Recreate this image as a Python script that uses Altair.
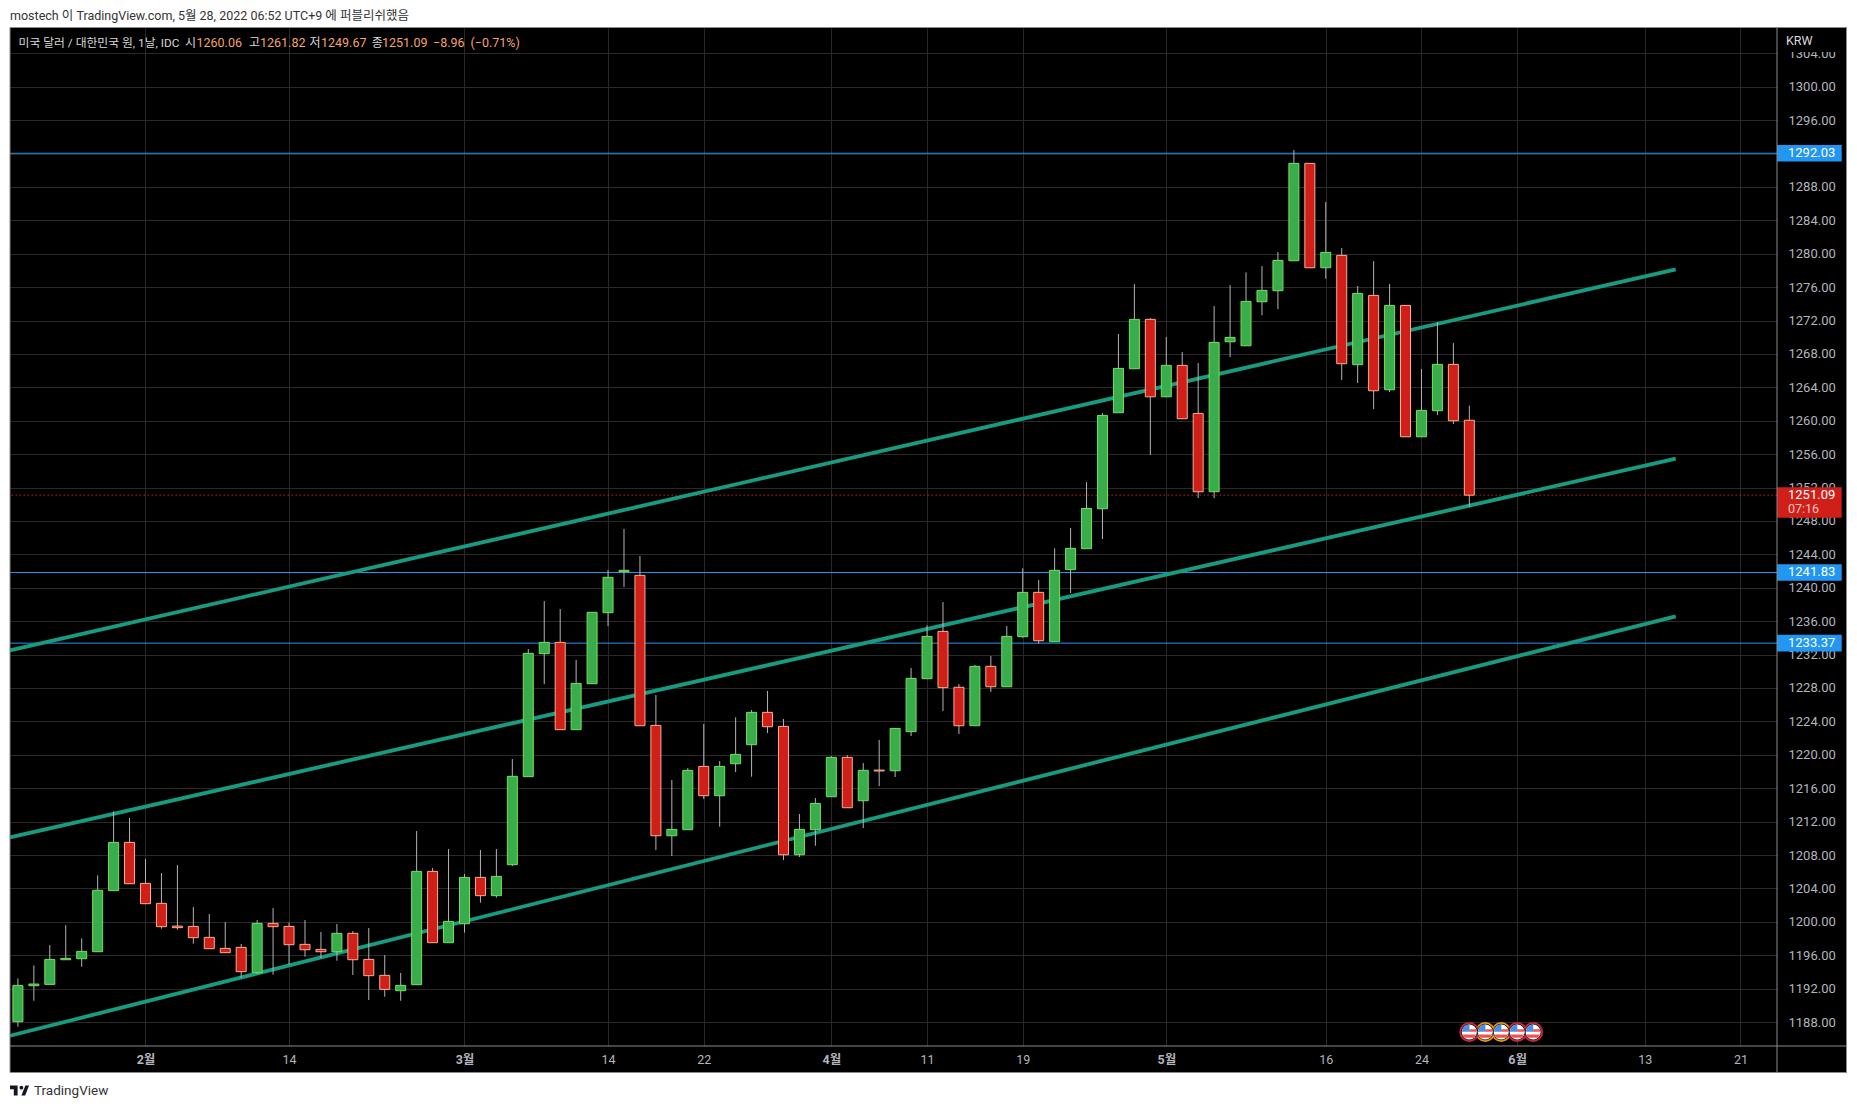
import altair as alt
import pandas as pd

# ---------- values ----------
opens = [1188.04,1192.35,1192.51,1195.46,1195.58,1196.42,1203.73,1209.51,1204.60,1202.21,
         1199.49,1199.45,1198.14,1196.82,1196.94,1193.91,1199.81,1199.45,1197.30,1196.70,
         1196.42,1198.62,1195.50,1193.59,1191.75,1192.47,1206.04,1197.50,1199.77,1205.32,
         1203.13,1206.84,1217.38,1232.11,1233.46,1223.01,1228.51,1237.02,1241.93,1241.49,
         1223.52,1210.31,1211.03,1218.61,1215.10,1218.93,1221.21,1225.08,1223.40,1208.03,
         1211.03,1214.98,1219.69,1214.50,1218.17,1218.09,1222.77,1229.11,1234.78,1228.08,
         1223.48,1230.59,1228.15,1234.14,1239.45,1233.54,1242.17,1244.68,1249.46,1260.96,
         1266.23,1272.14,1262.87,1266.63,1260.88,1251.50,1269.46,1268.98,1274.25,1275.57,
         1279.16,1290.82,1278.32,1279.80,1266.71,1275.01,1263.71,1273.81,1258.08,1261.20,
         1266.75,1260.06]
closes = [1192.39,1192.55,1195.50,1195.62,1196.46,1203.77,1209.51,1204.56,1202.17,1199.42,
          1199.30,1198.10,1196.78,1196.30,1194.03,1199.81,1199.42,1197.26,1196.66,1196.42,
          1198.62,1195.46,1193.55,1191.91,1192.39,1206.04,1197.50,1200.05,1205.32,1203.13,
          1205.44,1217.42,1232.15,1233.46,1223.01,1228.55,1237.06,1241.25,1242.09,1223.48,
          1210.31,1211.07,1218.14,1215.10,1218.61,1220.05,1225.08,1223.36,1208.03,1211.07,
          1214.18,1219.69,1213.66,1218.14,1218.06,1223.16,1229.15,1234.18,1228.04,1223.48,
          1230.59,1228.15,1234.18,1239.45,1233.66,1242.09,1244.72,1249.50,1260.64,1266.27,
          1272.14,1262.87,1266.63,1260.24,1251.50,1269.38,1269.98,1274.29,1275.61,1279.20,
          1290.82,1278.32,1280.16,1266.83,1275.25,1263.59,1273.81,1258.08,1261.24,1266.75,
          1260.00,1251.09]
highs = [1193.23,1194.78,1197.22,1199.61,1198.02,1205.56,1213.23,1212.43,1207.52,1205.84,
         1206.80,1201.77,1200.93,1199.97,1197.34,1200.21,1201.65,1199.93,1200.21,1198.78,
         1199.73,1198.90,1199.26,1196.02,1193.87,1210.87,1206.44,1208.72,1205.72,1208.60,
         1208.72,1219.49,1232.67,1238.41,1237.46,1231.35,1237.06,1242.13,1247.04,1243.80,
         1227.16,1216.98,1218.41,1223.68,1219.25,1224.48,1225.36,1227.64,1224.28,1212.91,
         1214.82,1219.85,1219.97,1219.01,1221.77,1223.16,1230.39,1235.50,1238.29,1228.47,
         1230.75,1231.83,1235.42,1242.33,1240.93,1244.72,1247.16,1252.65,1260.92,1270.38,
         1276.37,1272.30,1270.02,1268.22,1266.91,1273.73,1276.25,1277.76,1278.52,1280.20,
         1292.41,1290.82,1286.19,1280.68,1276.13,1279.12,1276.37,1273.81,1266.19,1271.82,
         1269.30,1261.82]
lows = [1187.44,1190.55,1192.51,1195.46,1194.62,1196.42,1203.73,1204.56,1202.17,1199.18,
        1199.06,1197.38,1196.78,1196.30,1193.27,1193.75,1193.67,1194.86,1195.82,1195.66,
        1195.34,1193.63,1190.63,1191.03,1190.55,1192.47,1197.50,1197.50,1198.70,1202.29,
        1202.89,1206.68,1217.38,1228.47,1223.01,1223.01,1228.51,1235.42,1240.09,1223.48,
        1208.59,1207.88,1211.03,1214.70,1211.39,1217.94,1217.38,1222.61,1207.40,1207.76,
        1209.11,1214.98,1213.66,1211.23,1216.26,1217.34,1222.25,1229.11,1225.24,1222.49,
        1223.48,1227.52,1228.15,1234.02,1233.30,1233.54,1239.37,1244.68,1245.84,1260.96,
        1266.23,1255.89,1262.87,1260.24,1250.74,1250.74,1267.62,1268.98,1272.65,1273.37,
        1279.16,1278.32,1277.01,1264.87,1264.51,1261.40,1263.43,1258.08,1258.08,1260.68,
        1259.60,1249.67]

tick_bars = [8, 17, 28, 37, 43, 51, 57, 63, 72, 82, 88, 94, 102, 108]
tick_labels = ["2월", "14", "3월", "14", "22", "4월", "11", "19", "5월", "16", "24", "6월", "13", "21"]
month_bars = [8, 28, 51, 72, 94]
price_ticks = list(range(1188, 1305, 4))

trend_names = ["upper", "upper", "middle", "middle", "lower", "lower"]
trend_bars = [-0.495, 103.94, -0.495, 103.94, -0.495, 103.94]
trend_values = [1232.5, 1278.13, 1210.1, 1255.46, 1186.36, 1236.58]

level_prices = [1292.03, 1241.83, 1233.37]
last_price = 1251.09
countdown = "07:16"

event_bars = [92, 93, 94, 95, 91]
event_rings = ["#E8920F", "#E8920F", "#D0263C", "#D0263C", "#D0263C"]

header = "mostech 이 TradingView.com, 5월 28, 2022 06:52 UTC+9 에 퍼블리쉬했음"
legend_title = "미국 달러 / 대한민국 원, 1날, IDC"
legend_parts = [("시", "#D8D8D8", 175), ("1260.06", "#F5A26B", 186.5), ("고", "#D8D8D8", 239),
                ("1261.82", "#F5A26B", 250), ("저", "#D8D8D8", 299.6), ("1249.67", "#F5A26B", 311),
                ("종", "#D8D8D8", 361.7), ("1251.09", "#F5A26B", 372),
                ("−8.96", "#F5A26B", 423), ("(−0.71%)", "#F5A26B", 460.5)]

# ---------- tables ----------
candles = pd.DataFrame({"i": range(len(opens)), "open": opens, "close": closes, "high": highs, "low": lows})
candles["dir"] = ["up" if c >= o else "down" for o, c in zip(opens, closes)]
trends = pd.DataFrame({"line": trend_names, "i": trend_bars, "v": trend_values})
levels = pd.DataFrame({"v": level_prices, "t": [f"{p:.2f}" for p in level_prices]})
last = pd.DataFrame({"v": [last_price], "t": [f"{last_price:.2f}"], "c": [countdown]})
events = pd.DataFrame({"i": event_bars, "ring": event_rings})

# ---------- geometry ----------
W, H = 1767, 1018
FONT = "Roboto, 'Noto Sans CJK KR', sans-serif"
AXIS_TEXT = "#B2B5BE"
GRID = "#292929"
FRAME = "#8A8A8A"

xscale = alt.Scale(domain=[-0.495, 110.29], nice=False, zero=False, padding=0)
yscale = alt.Scale(domain=[1185.13, 1307.03], nice=False, zero=False, padding=0)

values_js = "[" + ",".join(map(str, tick_bars)) + "]"
labels_js = "[" + ",".join(f"'{t}'" for t in tick_labels) + "]"
months_js = "[" + ",".join(map(str, month_bars)) + "]"
xaxis = alt.Axis(
    title=None, values=tick_bars, grid=True, gridColor=GRID, gridWidth=1, domain=False, ticks=False,
    labelExpr=f"{labels_js}[indexof({values_js}, datum.value)]",
    labelFontWeight=alt.expr(f"indexof({months_js}, datum.value) >= 0 ? 'bold' : 'normal'"),
    labelColor=AXIS_TEXT, labelFont=FONT, labelFontSize=12.5, labelPadding=7, labelOverlap=False, labelFlush=False,
)
yaxis = alt.Axis(
    title=None, orient="right", values=price_ticks, format=".2f", grid=True, gridColor=GRID, gridWidth=1,
    domain=False, ticks=False, labelColor=AXIS_TEXT, labelFont=FONT, labelFontSize=13, labelPadding=11,
    labelOverlap=False, labelFlush=False,
)
X = alt.X("i:Q", scale=xscale, axis=xaxis)


def Y(field):
    return alt.Y(f"{field}:Q", scale=yscale, axis=yaxis)


blank = alt.Data(values=[{}])


def box(x0, x1, y0, y1, **mark):
    return alt.Chart(blank).mark_rect(**mark).encode(
        x=alt.value(x0), x2=alt.value(x1), y=alt.value(y0), y2=alt.value(y1))


def label(text, x, y, color, size=12.5, weight="normal", align="left"):
    return alt.Chart(blank).mark_text(
        text=text, align=align, baseline="middle", font=FONT, fontSize=size, color=color, fontWeight=weight
    ).encode(x=alt.value(x), y=alt.value(y))


# ---------- layers ----------
white_top = box(-2, W + 70, -20, -0.5, color="#FFFFFF")
white_left = box(-2, 0, -20, H + 54, color="#FFFFFF")
white_bottom = box(-2, W + 70, 1044.5, H + 54, color="#FFFFFF")

level_lines = alt.Chart(levels).mark_rule(color="#2196F3", strokeWidth=1).encode(y=Y("v"))
last_line = alt.Chart(last).mark_rule(color="#CF1F18", strokeWidth=1, strokeDash=[1.5, 2.5]).encode(y=Y("v"))

trend = alt.Chart(trends).mark_line(color="#179C82", strokeWidth=3.8, strokeCap="butt").encode(
    x=X, y=Y("v"), detail="line:N")

wicks = alt.Chart(candles).mark_rule(color="#B4B4B4", strokeWidth=1).encode(
    x=X, y=Y("high"), y2=alt.Y2("low:Q"))

dir_domain = ["up", "down"]
bodies = alt.Chart(candles).mark_bar(size=10, strokeWidth=1, orient="vertical").encode(
    x=X, y=Y("open"), y2=alt.Y2("close:Q"),
    fill=alt.Fill("dir:N", scale=alt.Scale(domain=dir_domain, range=["#39AC4B", "#CF1F18"]), legend=None),
    stroke=alt.Stroke("dir:N", scale=alt.Scale(domain=dir_domain, range=["#77E05C", "#F9B08C"]), legend=None),
)

flag_y = 1004
flag_ring = alt.Chart(events).mark_point(filled=True, shape="circle", size=400, strokeWidth=0, opacity=1).encode(
    x=X, y=alt.value(flag_y), color=alt.Color("ring:N", scale=None, legend=None))
flag_gap = alt.Chart(events).mark_point(filled=True, shape="circle", size=272, color="#1A1A1A", strokeWidth=0, opacity=1).encode(
    x=X, y=alt.value(flag_y))
flag_disc = alt.Chart(events).mark_point(filled=True, shape="circle", size=225, color="#FFFFFF", strokeWidth=0, opacity=1).encode(
    x=X, y=alt.value(flag_y))
flag_red = alt.Chart(events).mark_point(
    filled=True, size=225, color="#EF5350", strokeWidth=0, opacity=1,
    shape="M0 -.36H.93V-.02H0ZM-.92 .34H.92L.62 .78H-.62Z").encode(x=X, y=alt.value(flag_y))
flag_blue = alt.Chart(events).mark_point(
    filled=True, size=225, color="#4A90E2", strokeWidth=0, opacity=1,
    shape="M-1 -.02L-.8 -.6L-.35 -.93L.02 -1V-.02Z").encode(x=X, y=alt.value(flag_y))

tag_x0, tag_x1 = W, 1831.7
level_tags = alt.Chart(levels).mark_rect(color="#2196F3", yOffset=-8.35, y2Offset=8.35).encode(
    x=alt.value(tag_x0), x2=alt.value(tag_x1), y=Y("v"), y2=alt.Y2("v:Q"))
level_text = alt.Chart(levels).mark_text(
    align="left", baseline="middle", font=FONT, fontSize=13, color="#FFFFFF"
).encode(x=alt.value(W + 11), y=Y("v"), text="t:N")

last_tag = alt.Chart(last).mark_rect(color="#CF1F18", yOffset=-8, y2Offset=22.5).encode(
    x=alt.value(tag_x0), x2=alt.value(tag_x1), y=Y("v"), y2=alt.Y2("v:Q"))
last_text = alt.Chart(last).mark_text(
    align="left", baseline="middle", font=FONT, fontSize=13, color="#FFFFFF"
).encode(x=alt.value(W + 11), y=Y("v"), text="t:N")
last_count = alt.Chart(last).mark_text(
    align="left", baseline="middle", font=FONT, fontSize=12.5, color="#F3C6C2", dy=14
).encode(x=alt.value(W + 11), y=Y("v"), text="c:N")

krw_mask = box(W + 0.5, 1836, 0, 24, color="#000000")
krw = label("KRW", W + 9, 12.7, "#D8DADF", size=12.5)

rule_v = box(W - 0.5, W + 0.5, -0.5, 1044.5, color=FRAME)
rule_h = box(0, 1836.5, H - 0.5, H + 0.5, color=FRAME)
frame = box(0, 1836.5, -0.5, 1044.5, fillOpacity=0, stroke=FRAME, strokeWidth=1)

logo = alt.Chart(blank).mark_point(
    filled=True, size=361, color="#131722", strokeWidth=0, opacity=1,
    shape="M-1 -.52H-.2V.52H-.6V-.12H-1ZM.4 -.3A.2 .2 0 1 1 0 -.3A.2 .2 0 1 1 .4 -.3ZM.62 -.52H1L.6 .52H.2Z",
).encode(x=alt.value(9.5), y=alt.value(1062.5))
brand = label("TradingView", 24, 1062.5, "#333333", size=13.5)
head = label(header, 0, -12, "#333333", size=12.5)
title_text = label(legend_title, 8.6, 15, "#D8D8D8", size=11.8)
legend_layers = [label(t, x, 15, c, size=12.5 if c != "#D8D8D8" else 12) for t, c, x in legend_parts]

chart = alt.layer(
    white_top, white_left, white_bottom,
    level_lines, last_line, trend, wicks, bodies,
    flag_ring, flag_gap, flag_disc, flag_red, flag_blue,
    level_tags, level_text, last_tag, last_text, last_count,
    krw_mask, krw, rule_v, rule_h, frame,
    logo, brand, head, title_text, *legend_layers,
).properties(
    width=W, height=H,
    background="#000000",
    padding={"left": 2, "top": 20, "right": 70, "bottom": 54},
    autosize=alt.AutoSizeParams(type="none"),
).configure_view(stroke=None)

chart.save("out.html", embed_options={"renderer": "svg", "actions": False})
